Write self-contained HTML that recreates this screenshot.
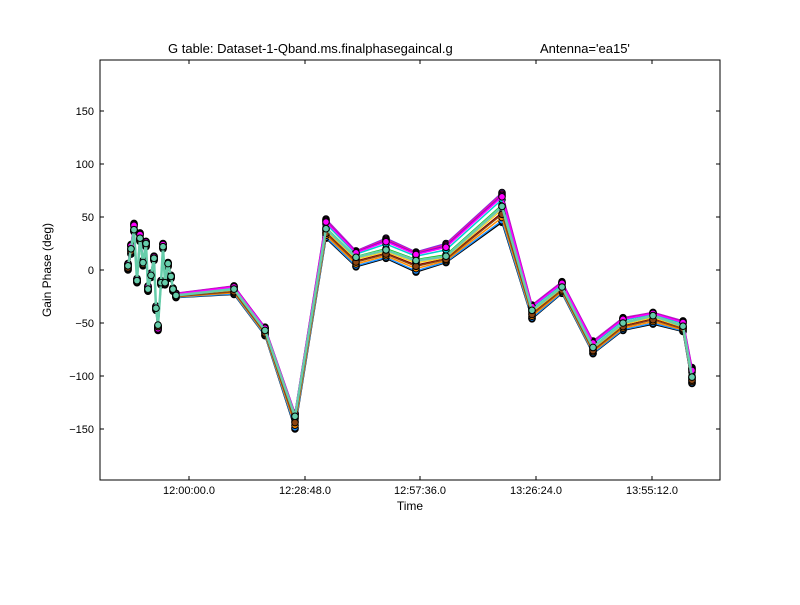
<!DOCTYPE html>
<html><head><meta charset="utf-8"><style>
body{margin:0;background:#fff;width:800px;height:600px;overflow:hidden;font-family:"Liberation Sans","DejaVu Sans",sans-serif}
</style></head><body>
<svg id="s" width="800" height="600" xmlns="http://www.w3.org/2000/svg" font-family="Liberation Sans, DejaVu Sans, sans-serif">
<rect width="800" height="600" fill="#fff"/>
<defs><clipPath id="c"><rect x="100" y="60" width="620" height="420"/></clipPath></defs>
<g id="g" clip-path="url(#c)"></g>
<rect x="100" y="60" width="620" height="420" fill="none" stroke="#000" stroke-width="1"/>
<g id="ax" font-size="11" fill="#000"></g>
<text x="168" y="53" font-size="13">G table: Dataset-1-Qband.ms.finalphasegaincal.g</text>
<text x="540" y="53" font-size="13">Antenna='ea15'</text>
<text x="410" y="510" font-size="12" text-anchor="middle">Time</text>
<text x="51" y="270" font-size="12" text-anchor="middle" transform="rotate(-90 51 270)">Gain Phase (deg)</text>
</svg>
<script>
var Y=function(d){return 270-d*1.06;};
var ax=document.getElementById('ax'),g=document.getElementById('g'),h='';
[150,100,50,0,-50,-100,-150].forEach(function(v){var y=Y(v);
h+='<line x1="100" x2="104" y1="'+y+'" y2="'+y+'" stroke="#000"/><line x1="716" x2="720" y1="'+y+'" y2="'+y+'" stroke="#000"/>';
h+='<text x="94" y="'+(y+4)+'" text-anchor="end">'+(v<0?'\u2212'+(-v):v)+'</text>';});
[[189,'12:00:00.0'],[305,'12:28:48.0'],[420,'12:57:36.0'],[536,'13:26:24.0'],[652,'13:55:12.0']].forEach(function(t){
h+='<line x1="'+t[0]+'" x2="'+t[0]+'" y1="480" y2="476" stroke="#000"/><line x1="'+t[0]+'" x2="'+t[0]+'" y1="60" y2="64" stroke="#000"/>';
h+='<text x="'+t[0]+'" y="494" text-anchor="middle">'+t[1]+'</text>';});
ax.innerHTML=h;
var D=[[128,0,4,6],[131,15,20,24],[134,36,38,44],[137,-12,-10,-8],[140,27,30,35],[143,4,7,9],[146,22,25,27],[148,-20,-18,-15],[151,-7,-5,-3],[154,9,11,13],[156,-38,-36,-34],[158,-55,-52,-57],[161,-14,-12,-10],[163,20,22,25],[165,-14,-12,-11],[168,3,6,7],[171,-8,-6,-5],[173,-20,-18,-17],[176,-26,-24,-22],
[234,-23,-18,-15],[265,-62,-57,-54],[295,-150,-138,-135],[326,30,39,48],[356,3,12,18],[386,11,19,30],[416,-2,9,17],[446,7,13,25],[502,45,60,73],[532,-46,-38,-33],[562,-22,-16,-11],[593,-79,-73,-67],[623,-57,-50,-45],[653,-51,-43,-40],[683,-58,-53,-48],[692,-107,-101,-92]];
var S=[['#000000',0],['#8a2be2',1],['#ff1493',0.95],['#1e90ff',0.05],['#7f0000',0.3],['#ff8c00',0.15],['#00c000',0.55],['#00ced1',0.75],['#ffd700',0.4],['#9400d3',0.9],['#c0c0c0',0.45],['#ff00ff',0.85],['#8b4513',0.25],['#66cdaa',0.5]];
var o='';
S.forEach(function(s){var t=s[1],pts=D.map(function(d){var v=t<0.5?d[1]+(d[2]-d[1])*t*2:d[2]+(d[3]-d[2])*(t-0.5)*2;return [d[0],Y(v)];});
o+='<polyline fill="none" stroke="'+s[0]+'" stroke-width="'+(s[0]=='#66cdaa'?2.5:1.5)+'" points="'+pts.map(function(p){return p[0]+','+p[1].toFixed(1)}).join(' ')+'"/>';
pts.forEach(function(p){o+='<circle cx="'+p[0]+'" cy="'+p[1].toFixed(1)+'" r="3.3" fill="'+s[0]+'" stroke="#000" stroke-width="1"/>';});});
g.innerHTML=o;
</script>
</body></html>
